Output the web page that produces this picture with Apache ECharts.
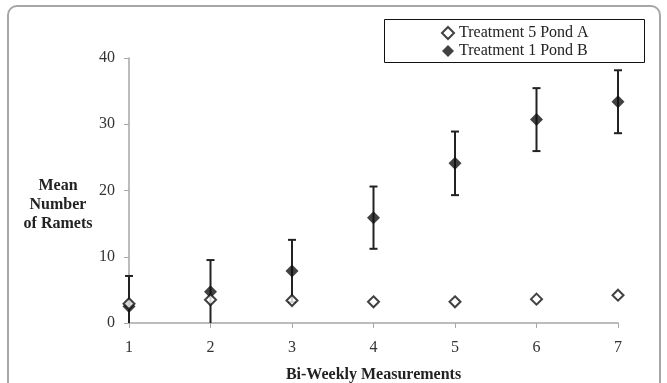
<!DOCTYPE html>
<html>
<head>
<meta charset="utf-8">
<script src="https://cdn.jsdelivr.net/npm/echarts@6/dist/echarts.min.js"></script>
<style>
html,body{margin:0;padding:0;background:#fff;}
#frame{position:absolute;left:7px;top:5px;width:654px;height:400px;border:2px solid #a6a6a6;border-radius:10px;box-sizing:border-box;}
#c{position:absolute;left:0;top:0;width:667px;height:383px;}
</style>
</head>
<body>
<div id="frame"></div>
<div id="c"></div>
<script>
var weeks = [1, 2, 3, 4, 5, 6, 7];
var pondA = [2.9, 3.5, 3.4, 3.2, 3.2, 3.6, 4.2];
var pondB = [2.5, 4.7, 7.85, 15.9, 24.1, 30.7, 33.4];
var errB = [4.6, 4.8, 4.7, 4.7, 4.8, 4.75, 4.75];
var yTicks = [0, 10, 20, 30, 40];

var font = '"Liberation Serif", "Times New Roman", serif';
var chart = echarts.init(document.getElementById('c'));

var errData = weeks.map(function (w, i) {
  return [w, Math.max(0, pondB[i] - errB[i]), pondB[i] + errB[i]];
});

chart.setOption({
  animation: false,
  grid: { left: 129, right: 49, top: 58, bottom: 60, containLabel: false, outerBoundsMode: 'none' },
  legend: {
    left: 441, top: 25,
    orient: 'vertical',
    padding: 0,
    itemGap: 2,
    itemWidth: 12, itemHeight: 12,
    textStyle: { fontFamily: font, fontSize: 16, color: '#222' },
    data: [{ name: 'Treatment 5 Pond A' }, { name: 'Treatment 1 Pond B' }]
  },
  xAxis: {
    type: 'value', min: 1, max: 7, interval: 1,
    name: 'Bi-Weekly Measurements', nameLocation: 'middle', nameGap: 44,
    nameTextStyle: { fontFamily: font, fontSize: 16, fontWeight: 'bold', color: '#222' },
    axisLine: { lineStyle: { color: '#a6a6a6', width: 1.5 } },
    axisTick: { show: true, length: 5, inside: false, lineStyle: { color: '#a6a6a6' } },
    axisLabel: { fontFamily: font, fontSize: 16, color: '#333', margin: 17 },
    splitLine: { show: false }
  },
  yAxis: {
    type: 'value', min: 0, max: 40, interval: 10,
    axisLine: { show: true, lineStyle: { color: '#a6a6a6', width: 1.5 } },
    axisTick: { show: true, length: 5, lineStyle: { color: '#a6a6a6' } },
    axisLabel: { fontFamily: font, fontSize: 16, color: '#333', margin: 14 },
    splitLine: { show: false }
  },
  graphic: [
    {
      type: 'rect', x: 384.5, y: 19.5,
      shape: { width: 260, height: 43 },
      style: { fill: 'none', stroke: '#111', lineWidth: 1 }
    },
    {
      type: 'text', x: 58, y: 176,
      style: {
        text: 'Mean\nNumber\nof Ramets',
        align: 'center', fontFamily: font, fontSize: 16, fontWeight: 'bold',
        fill: '#222', lineHeight: 19
      }
    }
  ],
  series: [
    {
      type: 'custom', name: 'errB', silent: true, z: 1,
      renderItem: function (params, api) {
        var x = api.value(0);
        var lo = api.coord([x, api.value(1)]);
        var hi = api.coord([x, api.value(2)]);
        var cap = 4;
        var st = { stroke: '#222', lineWidth: 2 };
        var children = [
          { type: 'line', shape: { x1: lo[0], y1: lo[1], x2: hi[0], y2: hi[1] }, style: st },
          { type: 'line', shape: { x1: hi[0] - cap, y1: hi[1], x2: hi[0] + cap, y2: hi[1] }, style: st }
        ];
        if (api.value(1) > 0) {
          children.push({ type: 'line', shape: { x1: lo[0] - cap, y1: lo[1], x2: lo[0] + cap, y2: lo[1] }, style: st });
        }
        return { type: 'group', children: children };
      },
      data: errData
    },
    {
      type: 'scatter', name: 'Treatment 5 Pond A', z: 3,
      symbol: 'diamond', symbolSize: 11,
      itemStyle: { color: '#fff', borderColor: '#111', borderWidth: 2 },
      data: weeks.map(function (w, i) { return [w, pondA[i]]; })
    },
    {
      type: 'scatter', name: 'Treatment 1 Pond B', z: 2,
      symbol: 'diamond', symbolSize: 13,
      itemStyle: { color: '#111' },
      data: weeks.map(function (w, i) { return [w, pondB[i]]; })
    }
  ]
});
</script>
</body>
</html>
